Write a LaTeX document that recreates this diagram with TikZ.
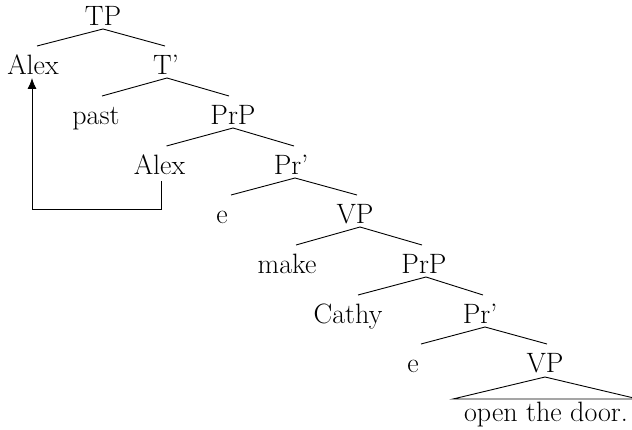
\documentclass[tikz,border=0pt]{standalone}
\usetikzlibrary{arrows.meta}
\begin{document}
\begin{tikzpicture}[x=1pt,y=-1pt,
  lab/.style={font=\fontsize{28}{32}\selectfont, inner sep=0pt, anchor=base},
  edge/.style={line width=0.9pt},
  move/.style={line width=0.9pt, -{Latex[length=11pt,width=9pt]}}]
\useasboundingbox (0,0) rectangle (632,430);
% row 0
\node[lab] (tp) at (103,26) {TP};
% row 1
\node[lab] (a1) at (33,75) {Alex};
\node[lab] (tb) at (166,75) {T'};
% row 2
\node[lab] (past) at (96,125) {past};
\node[lab] (prp1) at (233,125) {PrP};
% row 3
\node[lab] (a2) at (159.5,175) {Alex};
\node[lab] (prb1) at (291,175) {Pr'};
% row 4
\node[lab] (e1) at (222,224) {e};
\node[lab] (vp1) at (355,224) {VP};
% row 5
\node[lab] (make) at (287,274) {make};
\node[lab] (prp2) at (424,274) {PrP};
% row 6
\node[lab] (cathy) at (348,324) {Cathy};
\node[lab] (prb2) at (480,324) {Pr'};
% row 7
\node[lab] (e2) at (413,373) {e};
\node[lab] (vp2) at (545,373) {VP};
% row 8
\node[lab] (door) at (546,421) {open the door.};
% branches
\newcommand\tbranch[4]{\draw[edge] ([xshift=#3,yshift=-3pt]#1.base) -- ([xshift=#4,yshift=29pt]#2.base);}
\tbranch{tp}{a1}{0pt}{4pt}
\tbranch{tp}{tb}{0pt}{-1pt}
\tbranch{tb}{past}{1pt}{6pt}
\tbranch{tb}{prp1}{1pt}{-4pt}
\tbranch{prp1}{a2}{0pt}{7pt}
\tbranch{prp1}{prb1}{0pt}{3pt}
\tbranch{prb1}{e1}{4pt}{9pt}
\tbranch{prb1}{vp1}{4pt}{2pt}
\tbranch{vp1}{make}{5pt}{9pt}
\tbranch{vp1}{prp2}{5pt}{-2pt}
\tbranch{prp2}{cathy}{2pt}{10pt}
\tbranch{prp2}{prb2}{2pt}{3pt}
\tbranch{prb2}{e2}{5pt}{8pt}
\tbranch{prb2}{vp2}{5pt}{2pt}
% triangle
\draw[edge] ([yshift=-4pt]vp2.base) -- ([xshift=-93pt,yshift=22pt]door.base) -- ([xshift=92pt,yshift=22pt]door.base) -- cycle;
% movement arrow
\draw[move] ([xshift=1.5pt,yshift=-6pt]a2.base) |- ([xshift=-1pt,yshift=-134pt]a1.base) -- ([xshift=-1pt,yshift=-3pt]a1.base);
\end{tikzpicture}
\end{document}
